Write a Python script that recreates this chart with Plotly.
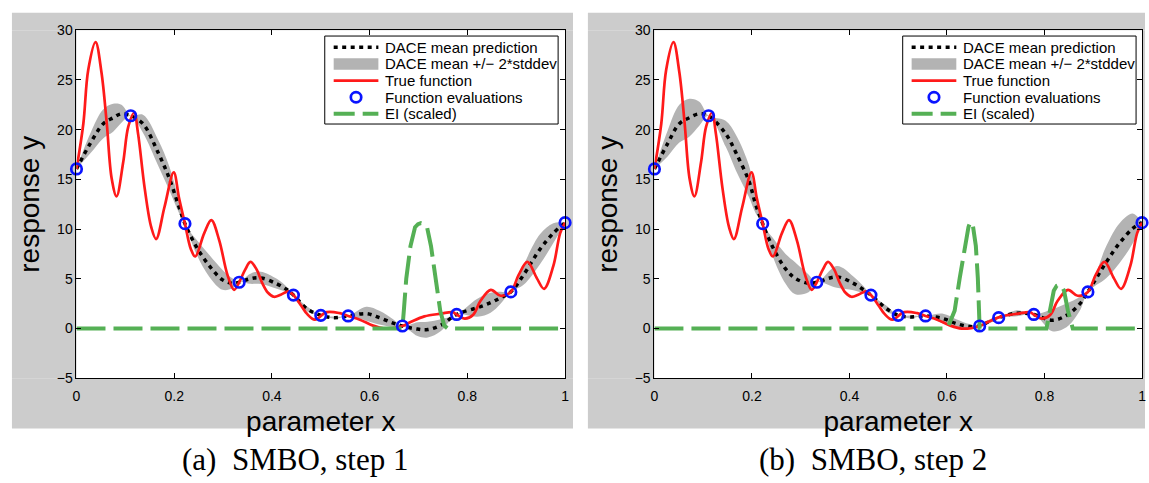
import plotly.graph_objects as go

W, H = 1149, 483

# ---- true objective (same in both steps) ----
x_true = [0.0, 0.014, 0.024, 0.039, 0.051, 0.062, 0.072, 0.082, 0.0955, 0.106,
          0.118, 0.126, 0.1396, 0.153, 0.163, 0.18, 0.199, 0.21, 0.222, 0.234,
          0.243, 0.2615, 0.276, 0.292, 0.309, 0.3225, 0.333, 0.345, 0.356, 0.368,
          0.38, 0.392, 0.404, 0.418, 0.434, 0.444, 0.46, 0.4715, 0.488, 0.512,
          0.539, 0.556, 0.58, 0.607, 0.63, 0.65, 0.667, 0.685, 0.712, 0.746,
          0.77, 0.778, 0.795, 0.812, 0.827, 0.848, 0.868, 0.889, 0.905, 0.923,
          0.9424, 0.957, 0.976, 0.99, 1.0]
y_true = [16.05, 20.6, 26.0, 28.8, 25.8, 20.6, 15.1, 13.3, 16.7, 20.3,
          21.7, 19.6, 14.1, 10.2, 9.0, 12.2, 15.7, 13.1, 10.55, 8.0,
          7.25, 9.6, 10.9, 8.9, 5.4, 3.9, 4.66, 5.9, 6.7, 6.0,
          4.6, 3.6, 3.2, 3.4, 3.75, 3.37, 2.3, 1.5, 0.9, 1.65,
          1.55, 1.27, 0.9, 0.3, 0.0, 0.05, 0.26, 0.68, 1.23, 1.5,
          1.65, 1.42, 1.0, 1.4, 2.8, 3.9, 3.3, 3.69, 5.4, 6.7,
          5.05, 4.0, 6.3, 9.6, 10.65]

# ---- step 1: DACE model, EI and evaluated points ----
x_mean_a = [0.0, 0.028, 0.055, 0.075, 0.092, 0.111, 0.136, 0.167, 0.19, 0.21,
            0.222, 0.2445, 0.272, 0.299, 0.319, 0.333, 0.355, 0.377, 0.41, 0.431,
            0.444, 0.4715, 0.5, 0.528, 0.556, 0.593, 0.62, 0.648, 0.667, 0.698,
            0.719, 0.746, 0.778, 0.8205, 0.8476, 0.868, 0.889, 0.915, 0.949, 0.976, 1.0]
mean_a = [16.05, 18.6, 20.6, 21.2, 21.6, 21.4, 20.6, 17.7, 15.1, 12.2,
          10.55, 8.3, 6.3, 4.9, 4.55, 4.66, 5.0, 5.1, 4.5, 3.9,
          3.37, 2.0, 1.33, 1.1, 1.27, 1.5, 1.1, 0.55, 0.26, -0.05,
          -0.1, 0.35, 1.42, 2.1, 2.6, 3.1, 3.69, 5.4, 8.0, 9.6, 10.65]
twosd_a = [0, 1.0, 1.45, 1.4, 0.9, 0, 0.9, 1.3, 1.2, 0.6,
           0, 0.7, 1.1, 1.0, 0.5, 0, 0.5, 0.62, 0.5, 0.25,
           0, 0.25, 0, 0.12, 0, 0.7, 0.7, 0.4, 0, 0.7,
           0.8, 0.6, 0, 0.9, 1.0, 0.6, 0, 1.0, 1.5, 1.0, 0]
x_ei_a = [0.0, 0.62, 0.667, 0.670, 0.675, 0.6836, 0.693, 0.699, 0.705, 0.711,
          0.7175, 0.7256, 0.7358, 0.7445, 0.7527, 0.76, 1.0]
ei_a = [0, 0, 0, 1.8, 5.05, 8.3, 10.2, 10.5, 10.6, 10.5,
        10.2, 8.3, 5.05, 1.8, 0.3, 0, 0]
x_eval_a = [0.0, 0.111, 0.222, 0.333, 0.444, 0.5, 0.556, 0.667, 0.778, 0.889, 1.0]
y_eval_a = [16.05, 21.4, 10.55, 4.66, 3.37, 1.33, 1.27, 0.26, 1.42, 3.69, 10.65]

# ---- step 2 ----
x_mean_b = [0.0, 0.027, 0.051, 0.0714, 0.092, 0.111, 0.146, 0.167, 0.194, 0.2075,
            0.222, 0.2415, 0.269, 0.289, 0.316, 0.333, 0.374, 0.408, 0.429, 0.444,
            0.476, 0.5, 0.524, 0.556, 0.592, 0.619, 0.646, 0.667, 0.686, 0.706,
            0.743, 0.778, 0.8157, 0.845, 0.872, 0.889, 0.9265, 0.954, 0.981, 1.0]
mean_b = [16.05, 18.6, 20.6, 21.2, 21.6, 21.4, 19.6, 17.7, 14.8, 12.5,
          10.55, 8.3, 6.0, 5.05, 4.55, 4.66, 5.2, 4.55, 3.9, 3.37,
          2.0, 1.33, 1.17, 1.27, 1.0, 0.5, 0.2, 0.26, 0.7, 1.1,
          1.55, 1.42, 0.84, 1.33, 2.46, 3.69, 6.67, 8.6, 10.07, 10.65]
twosd_b = [0, 1.3, 1.9, 1.9, 1.2, 0, 1.3, 1.8, 1.6, 0.9,
           0, 0.9, 1.5, 1.6, 0.9, 0, 1.1, 0.7, 0.35, 0,
           0.3, 0, 0.15, 0, 0.5, 0.45, 0.25, 0, 0.2, 0,
           0.3, 0, 1.1, 1.2, 0.7, 0, 1.6, 2.0, 1.5, 0]
x_ei_b = [0.0, 0.595, 0.602, 0.6157, 0.626, 0.6365, 0.644, 0.647, 0.6497, 0.653,
          0.6592, 0.6633, 0.666, 0.667, 0.804, 0.811, 0.819, 0.825, 0.83, 0.835,
          0.8402, 0.848, 0.858, 1.0]
ei_b = [0, 0, 0.15, 1.8, 5.05, 8.3, 10.2, 10.6, 10.7, 10.4,
        8.3, 5.05, 1.8, 0, 0, 1.8, 3.8, 4.3, 4.4, 4.3,
        3.8, 1.8, 0, 0]
x_eval_b = [0.0, 0.111, 0.222, 0.333, 0.444, 0.5, 0.556, 0.667, 0.706, 0.778, 0.889, 1.0]
y_eval_b = [16.05, 21.4, 10.55, 4.66, 3.37, 1.33, 1.27, 0.26, 1.1, 1.42, 3.69, 10.65]

x_ticks = [0, 0.2, 0.4, 0.6, 0.8, 1]
y_ticks = [-5, 0, 5, 10, 15, 20, 25, 30]
legend_labels = ["DACE mean prediction", "DACE mean +/\u2212 2*stddev", "True function",
                 "Function evaluations", "EI (scaled)"]
captions = ["(a)\u00a0\u00a0SMBO, step 1", "(b)\u00a0\u00a0SMBO, step 2"]

# ---- styling ----
SANS = "Liberation Sans, Arial, Helvetica, sans-serif"
SERIF = "Liberation Serif, Times New Roman, serif"
FRAME = "#cccccc"
BAND = "#b3b3b3"
RED = "#ff1a1a"
BLUE = "#0a14ff"
GREEN = "#55b055"
DOT = "4px,4.5px"
DASH = "29px,8px"


def px(x):
    return x / W


def py(y):
    return 1 - y / H


fig = go.Figure()


def add_panel(xa, ya, x_mean, mean, twosd, x_ei, ei, x_ev, y_ev):
    upper = [m + s for m, s in zip(mean, twosd)]
    lower = [m - s for m, s in zip(mean, twosd)]
    common = dict(xaxis=xa, yaxis=ya, showlegend=False, hoverinfo="skip")
    fig.add_trace(go.Scatter(x=x_mean, y=lower, mode="lines",
                             line=dict(width=0, shape="spline", color=BAND), **common))
    fig.add_trace(go.Scatter(x=x_mean, y=upper, mode="lines", fill="tonexty",
                             fillcolor=BAND,
                             line=dict(width=0, shape="spline", color=BAND), **common))
    fig.add_trace(go.Scatter(x=x_mean, y=mean, mode="lines",
                             line=dict(color="black", width=3.5, dash=DOT, shape="spline"),
                             **common))
    fig.add_trace(go.Scatter(x=x_true, y=y_true, mode="lines",
                             line=dict(color=RED, width=2.7, shape="spline"), **common))
    fig.add_trace(go.Scatter(x=x_ei, y=ei, mode="lines",
                             line=dict(color=GREEN, width=4, dash=DASH), **common))
    fig.add_trace(go.Scatter(x=x_ev, y=y_ev, mode="markers", cliponaxis=False,
                             marker=dict(symbol="circle-open", size=10.5, color=BLUE,
                                         line=dict(color=BLUE, width=2.7)),
                             **common))


add_panel("x", "y", x_mean_a, mean_a, twosd_a, x_ei_a, ei_a, x_eval_a, y_eval_a)
add_panel("x2", "y2", x_mean_b, mean_b, twosd_b, x_ei_b, ei_b, x_eval_b, y_eval_b)

# plot areas in pixels: (left, right, frame left, frame right), shared top/bottom
panels = [(73, 565, 8, 573), (655, 1146, 588, 1149)]
TOP, BOTTOM = 23, 383
FTOP, FBOTTOM = 5, 435

axis_common = dict(showline=True, mirror="ticks", linecolor="black", linewidth=1,
                   ticks="inside", ticklen=5, tickwidth=1, tickcolor="black",
                   showgrid=False, zeroline=False,
                   tickfont=dict(family=SANS, size=14, color="black"))

layout = dict(width=W, height=H, margin=dict(l=0, r=0, t=0, b=0),
              paper_bgcolor="white", plot_bgcolor="white", showlegend=False)

shapes = []
annotations = []

for i, (L, R, FL, FR) in enumerate(panels):
    sfx = "" if i == 0 else str(i + 1)
    layout["xaxis" + sfx] = dict(
        domain=[px(L), px(R)], range=[0, 1], tickvals=x_ticks,
        anchor="y" + sfx, ticklabelstandoff=5,
        title=dict(text="parameter x", standoff=8,
                   font=dict(family=SANS, size=28, color="black")),
        **axis_common)
    layout["yaxis" + sfx] = dict(
        domain=[py(BOTTOM), py(TOP)], range=[-5, 30], tickvals=y_ticks,
        anchor="x" + sfx,
        title=dict(text="response y", standoff=8,
                   font=dict(family=SANS, size=28, color="black")),
        **axis_common)

    # grey figure frame around each plot area
    for (x0, y0, x1, y1) in [(FL, FTOP, FR, TOP), (FL, BOTTOM, FR, FBOTTOM),
                             (FL, TOP, L, BOTTOM), (R, TOP, FR, BOTTOM)]:
        shapes.append(dict(type="rect", xref="paper", yref="paper",
                           x0=px(x0), x1=px(x1), y0=py(y1), y1=py(y0),
                           fillcolor=FRAME, line=dict(width=0), layer="below"))

    # legend box
    bx0, bx1, by0, by1 = L + 250, L + 485, 29, 120
    shapes.append(dict(type="rect", xref="paper", yref="paper",
                       x0=px(bx0), x1=px(bx1), y0=py(by1), y1=py(by0),
                       fillcolor="white", line=dict(color="black", width=1)))
    s0, s1 = L + 259, L + 304
    rows = [40.7 + 17.2 * k for k in range(5)]
    shapes.append(dict(type="line", xref="paper", yref="paper",
                       x0=px(s0), x1=px(s1), y0=py(rows[0]), y1=py(rows[0]),
                       line=dict(color="black", width=3.5, dash=DOT)))
    shapes.append(dict(type="rect", xref="paper", yref="paper",
                       x0=px(s0), x1=px(s1), y0=py(rows[1] + 6), y1=py(rows[1] - 6),
                       fillcolor=BAND, line=dict(width=0)))
    shapes.append(dict(type="line", xref="paper", yref="paper",
                       x0=px(s0), x1=px(s1), y0=py(rows[2]), y1=py(rows[2]),
                       line=dict(color=RED, width=2.7)))
    cx, r = (s0 + s1) / 2, 5.25
    shapes.append(dict(type="circle", xref="paper", yref="paper",
                       x0=px(cx - r), x1=px(cx + r), y0=py(rows[3] + r), y1=py(rows[3] - r),
                       line=dict(color=BLUE, width=2.7)))
    shapes.append(dict(type="line", xref="paper", yref="paper",
                       x0=px(s0), x1=px(s1), y0=py(rows[4]), y1=py(rows[4]),
                       line=dict(color=GREEN, width=4, dash="21px,8px")))
    for k, lab in enumerate(legend_labels):
        annotations.append(dict(text=lab, xref="paper", yref="paper",
                                x=px(L + 309), y=py(rows[k]), xanchor="left",
                                yanchor="middle", showarrow=False,
                                font=dict(family=SANS, size=15, color="black")))

    annotations.append(dict(text=captions[i], xref="paper", yref="paper",
                            x=px(293 if i == 0 else 875), y=py(467),
                            xanchor="center", yanchor="middle", showarrow=False,
                            font=dict(family=SERIF, size=31, color="black")))

layout["shapes"] = shapes
layout["annotations"] = annotations
fig.update_layout(**layout)

fig.write_html("out.html")
